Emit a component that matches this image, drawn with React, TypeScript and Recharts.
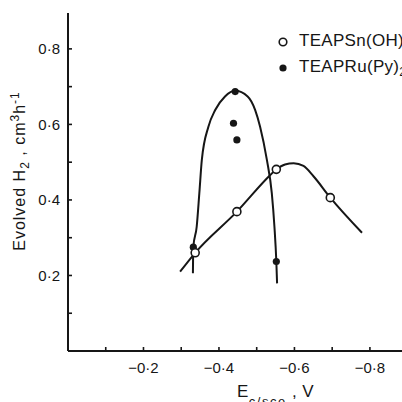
import React from 'react';
import { ComposedChart, Line, Scatter, XAxis, YAxis, Legend } from 'recharts';

const FONT = '"Liberation Sans", Arial, sans-serif';
const INK = '#161616';

// measured points, electrode potential E (V) vs evolved H2 (cm3 h-1)
const snPotential = [-0.337, -0.4475, -0.552, -0.695];
const snRate = [0.26, 0.369, 0.481, 0.406];
const ruPotential = [-0.332, -0.4385, -0.443, -0.4475, -0.552];
const ruRate = [0.275, 0.603, 0.687, 0.559, 0.237];

// hand drawn trend curves
const snCurvePotential = [-0.297, -0.337, -0.4475, -0.536, -0.552, -0.575, -0.598, -0.624, -0.651, -0.695, -0.779];
const snCurveRate = [0.21, 0.26, 0.369, 0.466, 0.481, 0.494, 0.497, 0.49, 0.462, 0.406, 0.313];
const ruCurvePotential = [-0.331, -0.332, -0.341, -0.348, -0.3546, -0.372, -0.39, -0.416, -0.443, -0.476, -0.496, -0.509, -0.527, -0.54, -0.547, -0.552, -0.554];
const ruCurveRate = [0.206, 0.275, 0.329, 0.418, 0.506, 0.594, 0.638, 0.674, 0.689, 0.674, 0.638, 0.594, 0.506, 0.418, 0.329, 0.237, 0.179];

const xTicks = [-0.1, -0.2, -0.3, -0.4, -0.5, -0.6, -0.7, -0.8];
const yTicks = [0.1, 0.2, 0.3, 0.4, 0.5, 0.6, 0.7, 0.8];

const zip = (xs: number[], ys: number[]) => xs.map((x, i) => ({ x, y: ys[i] }));

const snData = zip(snPotential, snRate);
const ruData = zip(ruPotential, ruRate);
const snCurve = zip(snCurvePotential, snCurveRate);
const ruCurve = zip(ruCurvePotential, ruCurveRate);

const fmt = (v: number) => v.toFixed(1).replace('.', '\u00b7').replace('-', '\u2212');
const isMajor = (v: number) => Math.round(Math.abs(v) * 10) % 2 === 0;

const XTick = (props: any) => {
    const { x, y, payload } = props;
    return (
        <g>
            <line x1={x} y1={y} x2={x} y2={y - 4} stroke={INK} strokeWidth={1.6} />
            {isMajor(payload.value) && (
                <text x={x} y={y + 22} textAnchor="middle" fontSize={15} fontFamily={FONT} fill={INK}>
                    {fmt(payload.value)}
                </text>
            )}
        </g>
    );
};

const YTick = (props: any) => {
    const { x, y, payload } = props;
    return (
        <g>
            <line x1={x} y1={y} x2={x + 4} y2={y} stroke={INK} strokeWidth={1.6} />
            {isMajor(payload.value) && (
                <text x={x - 8} y={y + 5.5} textAnchor="end" fontSize={15} fontFamily={FONT} fill={INK}>
                    {fmt(payload.value)}
                </text>
            )}
        </g>
    );
};

const OpenDot = (p: any) => <circle cx={p.cx} cy={p.cy} r={4} fill="#fff" stroke={INK} strokeWidth={1.6} />;
const FilledDot = (p: any) => <circle cx={p.cx} cy={p.cy} r={3.6} fill={INK} />;

const LegendBox = () => {
    const row: React.CSSProperties = { display: 'flex', alignItems: 'center', height: 26, whiteSpace: 'nowrap' };
    const sub: React.CSSProperties = { fontSize: 12, verticalAlign: -4 };
    return (
        <div style={{ fontFamily: FONT, fontSize: 17, color: INK, letterSpacing: 0.3 }}>
            <div style={row}>
                <svg width={12} height={12}>
                    <circle cx={6} cy={6} r={3.8} fill="#fff" stroke={INK} strokeWidth={1.6} />
                </svg>
                <span style={{ marginLeft: 10 }}>
                    TEAPSn(OH)<span style={sub}>2</span>
                </span>
            </div>
            <div style={row}>
                <svg width={12} height={12}>
                    <circle cx={6} cy={6} r={3.6} fill={INK} />
                </svg>
                <span style={{ marginLeft: 10 }}>
                    TEAPRu(Py)<span style={sub}>2</span>
                </span>
            </div>
        </div>
    );
};

export default function App() {
    return (
        <div style={{ position: 'absolute', left: 0, top: 0, width: 402, height: 402, background: '#fff' }}>
            <ComposedChart width={402} height={402} margin={{ top: 13, right: 0, bottom: 0, left: 0 }}>
                <XAxis
                    type="number"
                    dataKey="x"
                    domain={[-0.885, 0]}
                    reversed
                    ticks={xTicks}
                    interval={0}
                    height={51}
                    tickSize={0}
                    tickMargin={0}
                    tick={<XTick />}
                    axisLine={{ stroke: INK, strokeWidth: 2 }}
                    allowDataOverflow
                />
                <YAxis
                    type="number"
                    dataKey="y"
                    domain={[0, 0.895]}
                    ticks={yTicks}
                    interval={0}
                    width={68}
                    tickSize={0}
                    tickMargin={0}
                    tick={<YTick />}
                    axisLine={{ stroke: INK, strokeWidth: 2 }}
                    allowDataOverflow
                />
                <Legend
                    layout="horizontal"
                    verticalAlign="middle"
                    align="center"
                    content={<LegendBox />}
                    wrapperStyle={{ left: 277, top: 29, width: 140 }}
                />
                <Line data={ruCurve} dataKey="y" type="monotone" dot={false} stroke={INK} strokeWidth={2} isAnimationActive={false} legendType="none" />
                <Line data={snCurve} dataKey="y" type="monotone" dot={false} stroke={INK} strokeWidth={2} isAnimationActive={false} legendType="none" />
                <Scatter data={ruData} dataKey="y" shape={<FilledDot />} isAnimationActive={false} />
                <Scatter data={snData} dataKey="y" shape={<OpenDot />} isAnimationActive={false} />
            </ComposedChart>
            <svg width={402} height={402} style={{ position: 'absolute', left: 0, top: 0, pointerEvents: 'none' }}>
                <text transform="translate(25,171) rotate(-90)" textAnchor="middle" fontSize={16} fontFamily={FONT} fill={INK} letterSpacing={1}>
                    Evolved H<tspan fontSize={12} dy={4}>2</tspan>
                    <tspan dy={-4}> , cm</tspan>
                    <tspan fontSize={12} dy={-6}>3</tspan>
                    <tspan dy={6}>h</tspan>
                    <tspan fontSize={12} dy={-6}>-1</tspan>
                </text>
                <text x={237} y={397} fontSize={17} fontFamily={FONT} fill={INK} letterSpacing={0.5}>
                    E<tspan fontSize={13} dy={9} letterSpacing={1.5}>c/sce</tspan>
                    <tspan dy={-9}> , V</tspan>
                </text>
            </svg>
        </div>
    );
}
